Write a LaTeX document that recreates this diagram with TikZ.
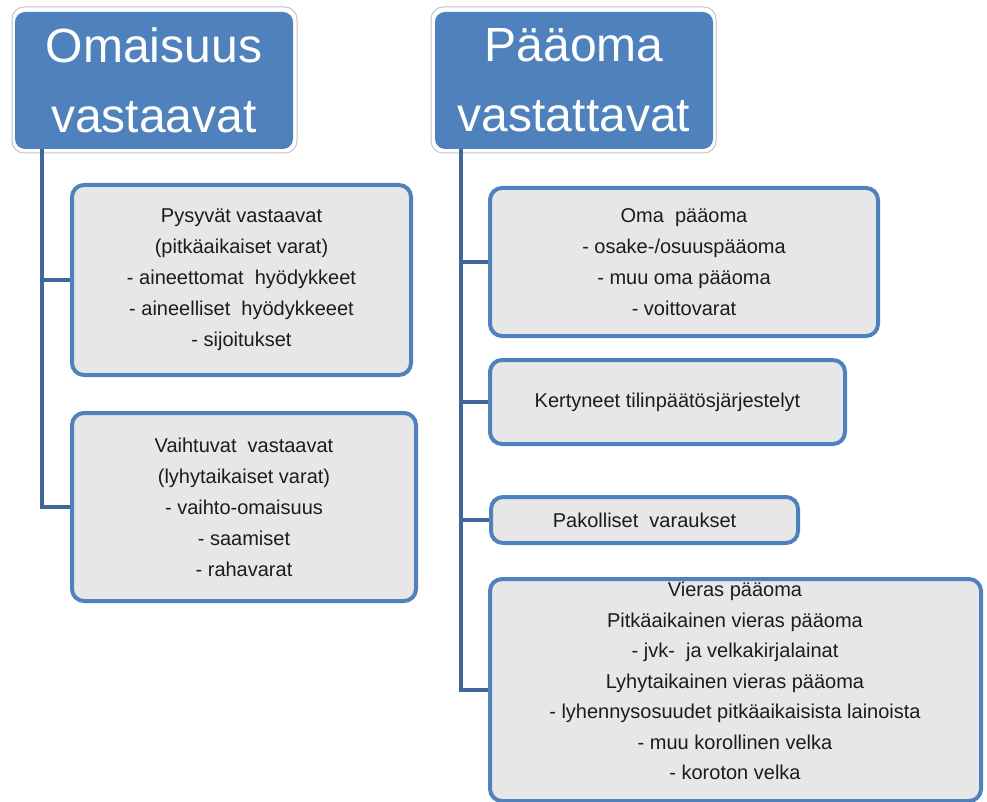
\documentclass[tikz,border=0pt]{standalone}
\usepackage{fontspec}
\setmainfont{Liberation Sans}
\definecolor{hblue}{HTML}{4F81BD}
\definecolor{lineblue}{HTML}{41679A}
\definecolor{boxfill}{HTML}{E7E7E7}
\definecolor{hborder}{HTML}{C4C4C4}
\definecolor{txtcol}{HTML}{1C1C1C}
\tikzset{
  hdrouter/.style={draw=hborder, line width=1pt, fill=white, rounded corners=12pt, minimum width=285pt, minimum height=146pt, inner sep=0pt},
  hdrinner/.style={fill=hblue, rounded corners=10pt, minimum width=278pt, minimum height=137pt, inner sep=0pt, text=white, align=center, font=\fontsize{48}{70}\selectfont},
  itembox/.style={draw=hblue, line width=4pt, fill=boxfill, rounded corners=12pt, inner sep=0pt, align=center, text=txtcol, font=\fontsize{20}{31}\selectfont},
  itemtxt/.style={inner sep=0pt, align=center, text=txtcol, font=\fontsize{20}{30.5}\selectfont},
  conn/.style={draw=lineblue, line width=4.5pt}
}
\begin{document}
\begin{tikzpicture}[x=1pt,y=-1pt]
\useasboundingbox (0,0) rectangle (987,802);
% headers
\node[hdrouter] (h1o) at (154.5,80) {};
\node[hdrinner] (h1) at (154,80.5) {Omaisuus\\vastaavat};
\node[hdrouter] (h2o) at (573.5,80) {};
\node[hdrinner] (h2) at (574,80.5) {Pääoma\\vastattavat};
% connector anchors
\coordinate (lx) at (42,149);
\coordinate (rx) at (461,149);
% left boxes
\node[itembox, minimum width=339pt, minimum height=190pt] (L1) at (241.5,280) {Pysyvät vastaavat\\(pitkäaikaiset varat)\\- aineettomat\ \ hyödykkeet\\- aineelliset\ \ hyödykkeeet\\- sijoitukset};
\node[itembox, minimum width=344pt, minimum height=188pt] (L2) at (244,507) {Vaihtuvat\ \ vastaavat\\(lyhytaikaiset varat)\\- vaihto-omaisuus\\- saamiset\\- rahavarat};
% right boxes
\node[itembox, minimum width=388pt, minimum height=148pt] (R1) at (684,262) {Oma\ \ pääoma\\- osake-/osuuspääoma\\- muu oma pääoma\\- voittovarat};
\node[itembox, minimum width=355pt, minimum height=84pt] (R2) at (667.5,402) {Kertyneet tilinpäätösjärjestelyt};
\node[itembox, minimum width=307pt, minimum height=46pt] (R3) at (644.5,520) {Pakolliset\ \ varaukset};
\node[itembox, minimum width=491pt, minimum height=222pt] (R4) at (735.5,690) {};
\node[itemtxt] (R4t) at (735,681) {Vieras pääoma\\Pitkäaikainen vieras pääoma\\- jvk-\ \ ja velkakirjalainat\\Lyhytaikainen vieras pääoma\\- lyhennysosuudet pitkäaikaisista lainoista\\- muu korollinen velka\\- koroton velka};
% connectors
\draw[conn] (lx) |- (L2.west);
\draw[conn] (lx |- L1.west) -- (L1.west);
\draw[conn] (rx) |- (R4.west);
\draw[conn] (rx |- R1.west) -- (R1.west);
\draw[conn] (rx |- R2.west) -- (R2.west);
\draw[conn] (rx |- R3.west) -- (R3.west);
\end{tikzpicture}
\end{document}
